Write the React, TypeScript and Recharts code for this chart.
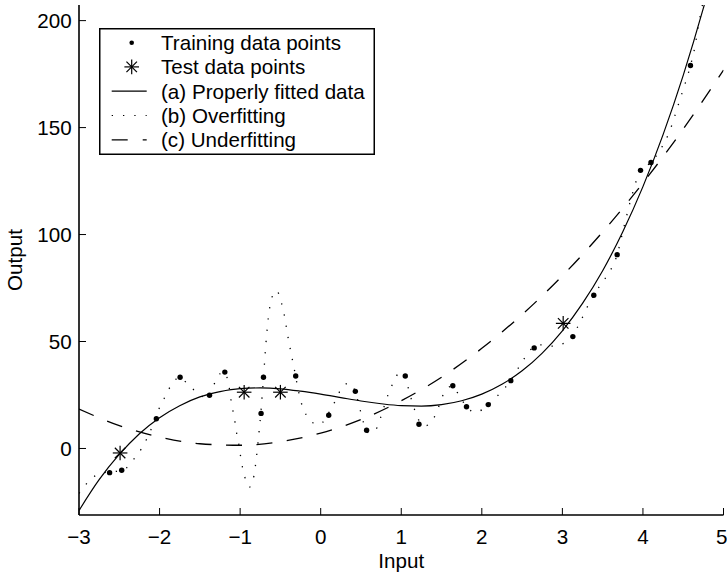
import {
    ComposedChart,
    Line,
    Scatter,
    XAxis,
    YAxis,
    Legend,
} from "recharts";

// training points (dots)
const trainX = [-2.62, -2.47, -2.04, -1.745, -1.38, -1.19, -0.74, -0.71, -0.31, 0.1, 0.43, 0.57, 1.05, 1.22, 1.64, 1.81, 2.08, 2.36, 2.65, 3.13, 3.39, 3.68, 3.97, 4.1, 4.59];
const trainY = [-11.3, -10.2, 13.9, 33.3, 24.9, 35.7, 16.4, 33.3, 33.9, 15.5, 26.7, 8.5, 33.9, 11.3, 29.3, 19.5, 20.5, 31.7, 47, 52.3, 71.6, 90.6, 130, 133.7, 179];

// test points (stars)
const testX = [-2.49, -0.95, -0.5, 3.01];
const testY = [-2.1, 26.3, 26.3, 58.5];

// (a) properly fitted curve
const fitX = [-3, -2.75, -2.5, -2.25, -2, -1.75, -1.5, -1.25, -1, -0.75, -0.5, -0.25, 0, 0.25, 0.5, 0.75, 1, 1.25, 1.5, 1.75, 2, 2.25, 2.5, 2.75, 3, 3.25, 3.5, 3.75, 4, 4.25, 4.5, 4.75, 5];
const fitY = [-29, -14.6, -2.8, 6.9, 14.4, 20, 24.1, 26.6, 28, 28.3, 27.9, 26.8, 25.4, 23.8, 22.2, 20.9, 20, 19.8, 20.5, 22.3, 25.4, 30, 36.3, 44.6, 55, 67.8, 83.1, 101.3, 122.4, 146.7, 174.4, 205.8, 241];

// (b) overfitting curve
const overX = [-3, -2.94, -2.83, -2.69, -2.55, -2.42, -2.32, -2.23, -2.16, -2.1, -1.99, -1.92, -1.85, -1.75, -1.63, -1.51, -1.41, -1.345, -1.29, -1.2, -1.145, -1.1, -1.07, -1.05, -1.02, -1, -0.975, -0.94, -0.885, -0.83, -0.8, -0.77, -0.74, -0.71, -0.68, -0.65, -0.61, -0.55, -0.49, -0.45, -0.41, -0.37, -0.33, -0.29, -0.25, -0.2, -0.15, -0.02, 0.15, 0.3, 0.36, 0.43, 0.49, 0.53, 0.6, 0.7, 0.75, 0.84, 0.9, 0.98, 1.05, 1.1, 1.145, 1.19, 1.3, 1.42, 1.53, 1.63, 1.72, 1.81, 1.92, 2.08, 2.155, 2.26, 2.36, 2.43, 2.51, 2.6, 2.73, 2.88, 3.02, 3.13, 3.2, 3.27, 3.33, 3.39, 3.49, 3.575, 3.68, 3.76, 3.87, 3.97, 4.1, 4.2, 4.32, 4.46, 4.59, 4.63, 4.705, 4.8];
const overY = [-21, -18, -13.6, -11.3, -10.8, -9.3, -5, -0.4, 4.4, 9.4, 20, 25, 30, 33.2, 29.2, 25.5, 23.2, 27.7, 33, 35.8, 30.5, 19.5, 14.1, 8.6, 2.9, -2.3, -8, -13.6, -18.1, -13, -5, 6, 18, 33, 49, 61, 70, 73.8, 68.5, 62, 53, 45, 37.5, 29.5, 22.5, 17.5, 13.5, 11.2, 20, 30, 30.5, 26.5, 18, 12.2, 7.2, 9.7, 15.2, 25.5, 30.7, 35.4, 33.9, 26.1, 20.8, 15.3, 10.6, 15.3, 25.8, 29.2, 24.7, 19.5, 16.9, 20.5, 23.1, 27.3, 31.7, 36.2, 41, 46, 48.4, 47.8, 49.2, 52.3, 57.7, 62.9, 67.8, 71.6, 77.5, 81.9, 90.6, 102.9, 119.2, 130, 133.7, 138.7, 147.3, 163.2, 179, 185, 201, 218];

// (c) underfitting curve
const underX = [-3, -2.5, -2, -1.5, -1, -0.5, 0, 0.5, 1, 1.5, 2, 2.5, 3, 3.5, 4, 4.5, 5];
const underY = [18.4, 10.7, 5.3, 2.2, 1.5, 3.2, 7.2, 13.5, 22.3, 33.3, 46.8, 62.6, 80.7, 101.2, 124.1, 149.3, 176.9];

const xTicks = [-3, -2, -1, 0, 1, 2, 3, 4, 5];
const yTicks = [0, 50, 100, 150, 200];

const legendLabels = [
    "Training data points",
    "Test data points",
    "(a) Properly fitted data",
    "(b) Overfitting",
    "(c) Underfitting",
];

const pairs = (xs: number[], ys: number[]) => xs.map((x, i) => ({ x, y: ys[i] }));

const trainData = pairs(trainX, trainY);
const testData = pairs(testX, testY);
const fitData = pairs(fitX, fitY);
const overData = pairs(overX, overY);
const underData = pairs(underX, underY);

const FONT = "'Liberation Sans', Arial, Helvetica, sans-serif";
const FS = 20.6;
const tickStyle = { fontSize: FS, fontFamily: FONT, fill: "#000" };
const fmt = (v: number) => (v < 0 ? `\u2212${Math.abs(v)}` : `${v}`);
const blank = () => "";

const Star = ({ cx, cy, s = 7.3 }: { cx: number; cy: number; s?: number }) => {
    const d = s * 0.72;
    return (
        <g stroke="#000" strokeWidth={1.2}>
            <line x1={cx - s} y1={cy} x2={cx + s} y2={cy} />
            <line x1={cx} y1={cy - s} x2={cx} y2={cy + s} />
            <line x1={cx - d} y1={cy - d} x2={cx + d} y2={cy + d} />
            <line x1={cx - d} y1={cy + d} x2={cx + d} y2={cy - d} />
        </g>
    );
};

const LegendBox = () => {
    const rowY = [14.7, 38.9, 63.2, 87.5, 111.8];
    return (
        <svg width={276} height={127} style={{ display: "block" }}>
            <rect x={0.75} y={0.75} width={274.5} height={125.5} fill="#fff" stroke="#000" strokeWidth={1.5} />
            <circle cx={32.7} cy={rowY[0]} r={2.3} fill="#000" />
            <Star cx={32.7} cy={rowY[1]} />
            <line x1={12.7} x2={47.7} y1={rowY[2]} y2={rowY[2]} stroke="#000" strokeWidth={1.2} />
            <line x1={12.7} x2={47.7} y1={rowY[3]} y2={rowY[3]} stroke="#000" strokeWidth={1.2} strokeDasharray="1.3 10" />
            <line x1={12.7} x2={47.7} y1={rowY[4]} y2={rowY[4]} stroke="#000" strokeWidth={1.3} strokeDasharray="16 15" />
            {legendLabels.map((t, i) => (
                <text key={t} x={62} y={rowY[i] + 7.3} fontSize={FS} fontFamily={FONT} fill="#000">
                    {t}
                </text>
            ))}
        </svg>
    );
};

export default function App() {
    return (
        <div style={{ position: "absolute", left: 0, top: 0, width: 727, height: 577, background: "#fff" }}>
            <ComposedChart width={727} height={577} margin={{ top: 5, right: 3.5, bottom: 0, left: 0 }}>
                <XAxis
                    dataKey="x"
                    type="number"
                    domain={[-3, 5]}
                    ticks={xTicks}
                    allowDataOverflow
                    height={62}
                    tickSize={-7}
                    tickMargin={21.5}
                    tickFormatter={fmt}
                    tick={tickStyle}
                    axisLine={{ stroke: "#000", strokeWidth: 1.6 }}
                    tickLine={{ stroke: "#000", strokeWidth: 1 }}
                    label={{
                        content: (p: any) => {
                            const vb = p.viewBox || { x: 79, y: 515, width: 644.5 };
                            return (
                                <text x={vb.x + vb.width / 2} y={vb.y + 53} textAnchor="middle" fontSize={FS} fontFamily={FONT} fill="#000">
                                    Input
                                </text>
                            );
                        },
                    }}
                />
                <XAxis
                    xAxisId="top"
                    orientation="top"
                    type="number"
                    domain={[-3, 5]}
                    ticks={xTicks}
                    allowDataOverflow
                    height={0}
                    tickSize={-7}
                    tickFormatter={blank}
                    axisLine={{ stroke: "#000", strokeWidth: 1.6 }}
                    tickLine={{ stroke: "#000", strokeWidth: 1 }}
                />
                <YAxis
                    type="number"
                    domain={[-31.1, 207.3]}
                    ticks={yTicks}
                    allowDataOverflow
                    width={79}
                    tickSize={-7}
                    tickMargin={14.3}
                    tick={tickStyle}
                    axisLine={{ stroke: "#000", strokeWidth: 1.6 }}
                    tickLine={{ stroke: "#000", strokeWidth: 1 }}
                    label={{
                        content: (p: any) => {
                            const vb = p.viewBox || { x: 0, y: 5, height: 510 };
                            const x = vb.x + 22;
                            const y = vb.y + vb.height / 2;
                            return (
                                <text x={x} y={y} transform={`rotate(-90, ${x}, ${y})`} textAnchor="middle" fontSize={FS} fontFamily={FONT} fill="#000">
                                    Output
                                </text>
                            );
                        },
                    }}
                />
                <YAxis
                    yAxisId="right"
                    orientation="right"
                    type="number"
                    domain={[-31.1, 207.3]}
                    ticks={yTicks}
                    allowDataOverflow
                    width={0}
                    tickSize={-7}
                    tickFormatter={blank}
                    axisLine={{ stroke: "#000", strokeWidth: 1.6 }}
                    tickLine={{ stroke: "#000", strokeWidth: 1 }}
                />
                <Line
                    data={underData}
                    dataKey="y"
                    type="monotone"
                    stroke="#000"
                    strokeWidth={1.3}
                    strokeDasharray="16 14.5"
                    dot={false}
                    activeDot={false}
                    isAnimationActive={false}
                />
                <Line
                    data={overData}
                    dataKey="y"
                    type="monotone"
                    stroke="#000"
                    strokeWidth={1.3}
                    strokeDasharray="1.3 10"
                    dot={false}
                    activeDot={false}
                    isAnimationActive={false}
                />
                <Line
                    data={fitData}
                    dataKey="y"
                    type="monotone"
                    stroke="#000"
                    strokeWidth={1.2}
                    dot={false}
                    activeDot={false}
                    isAnimationActive={false}
                />
                <Scatter
                    data={trainData}
                    dataKey="y"
                    isAnimationActive={false}
                    shape={(p: any) => <circle cx={p.cx} cy={p.cy} r={2.7} fill="#000" />}
                />
                <Scatter
                    data={testData}
                    dataKey="y"
                    isAnimationActive={false}
                    shape={(p: any) => <Star cx={p.cx} cy={p.cy} />}
                />
                <Legend
                    layout="vertical"
                    align="center"
                    verticalAlign="middle"
                    wrapperStyle={{ left: 99, top: 28, width: 276, height: 127 }}
                    content={() => <LegendBox />}
                />
            </ComposedChart>
        </div>
    );
}
